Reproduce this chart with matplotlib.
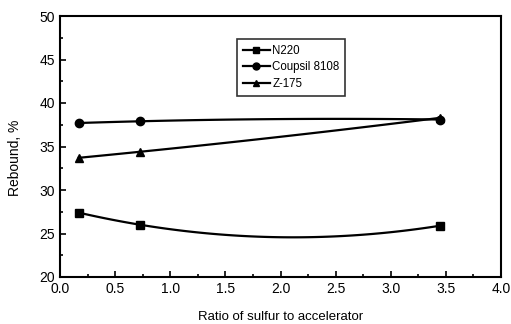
import numpy as np
import matplotlib
matplotlib.use("Agg")
import matplotlib.pyplot as plt
from matplotlib.ticker import MultipleLocator
from matplotlib.lines import Line2D

plt.rcParams['font.family'] = ['Liberation Sans', 'DejaVu Sans']

ratio = [0.17, 0.73, 3.45]
n220 = [27.4, 26.0, 25.9]
coupsil = [37.7, 37.9, 38.1]
z175 = [33.7, 34.4, 38.3]
series = [("N220", n220, "s"), ("Coupsil 8108", coupsil, "o"), ("Z-175", z175, "^")]

fig = plt.figure(figsize=(5.11, 3.24), dpi=100)
ax = fig.add_axes([60/511, 1-277/324, 441/511, 261/324])

handles = []
for name, vals, mk in series:
    coef = np.polyfit(ratio, vals, 2)
    xs = np.linspace(ratio[0], ratio[-1], 100)
    ax.plot(xs, np.polyval(coef, xs), color='black', lw=1.6)
    ax.plot(ratio, vals, linestyle='none', marker=mk, color='black', ms=6)
    handles.append(Line2D([], [], color='black', lw=1.6, marker=mk, ms=5, label=name))

ax.set_xlim(0, 4)
ax.set_ylim(20, 50)
ax.xaxis.set_minor_locator(MultipleLocator(0.25))
ax.yaxis.set_major_locator(MultipleLocator(5))
ax.yaxis.set_minor_locator(MultipleLocator(2.5))
xt = np.arange(0, 4.01, 0.5)
ax.set_xticks(xt)
ax.set_xticklabels([f"{v:.1f}" for v in xt])
ax.tick_params(which='both', direction='in', top=False, right=False, labelsize=10)
ax.tick_params(which='major', length=4, width=1.2)
ax.tick_params(which='minor', length=2, width=1.2)
for s in ax.spines.values():
    s.set_linewidth(1.5)

ax.set_xlabel("Ratio of sulfur to accelerator", fontsize=9.5)
ax.set_ylabel("Rebound, %", fontsize=10)
ax.xaxis.set_label_coords(0.5, -(317-277)/261, transform=ax.transAxes)
ax.yaxis.set_label_coords(-(60-15)/441, (277-158)/261, transform=ax.transAxes)
ax.xaxis.label.set_va('center')
ax.yaxis.label.set_va('center')

leg = ax.legend(handles=handles, loc='upper left',
                bbox_to_anchor=((237-60)/441, (277-39)/261),
                fontsize=8.3, frameon=True, fancybox=False, edgecolor='black',
                handlelength=2.35, borderpad=0.5, labelspacing=0.4,
                handletextpad=0.2, borderaxespad=0)
leg.get_frame().set_linewidth(1.2)

fig.savefig("out.png", dpi=100)
